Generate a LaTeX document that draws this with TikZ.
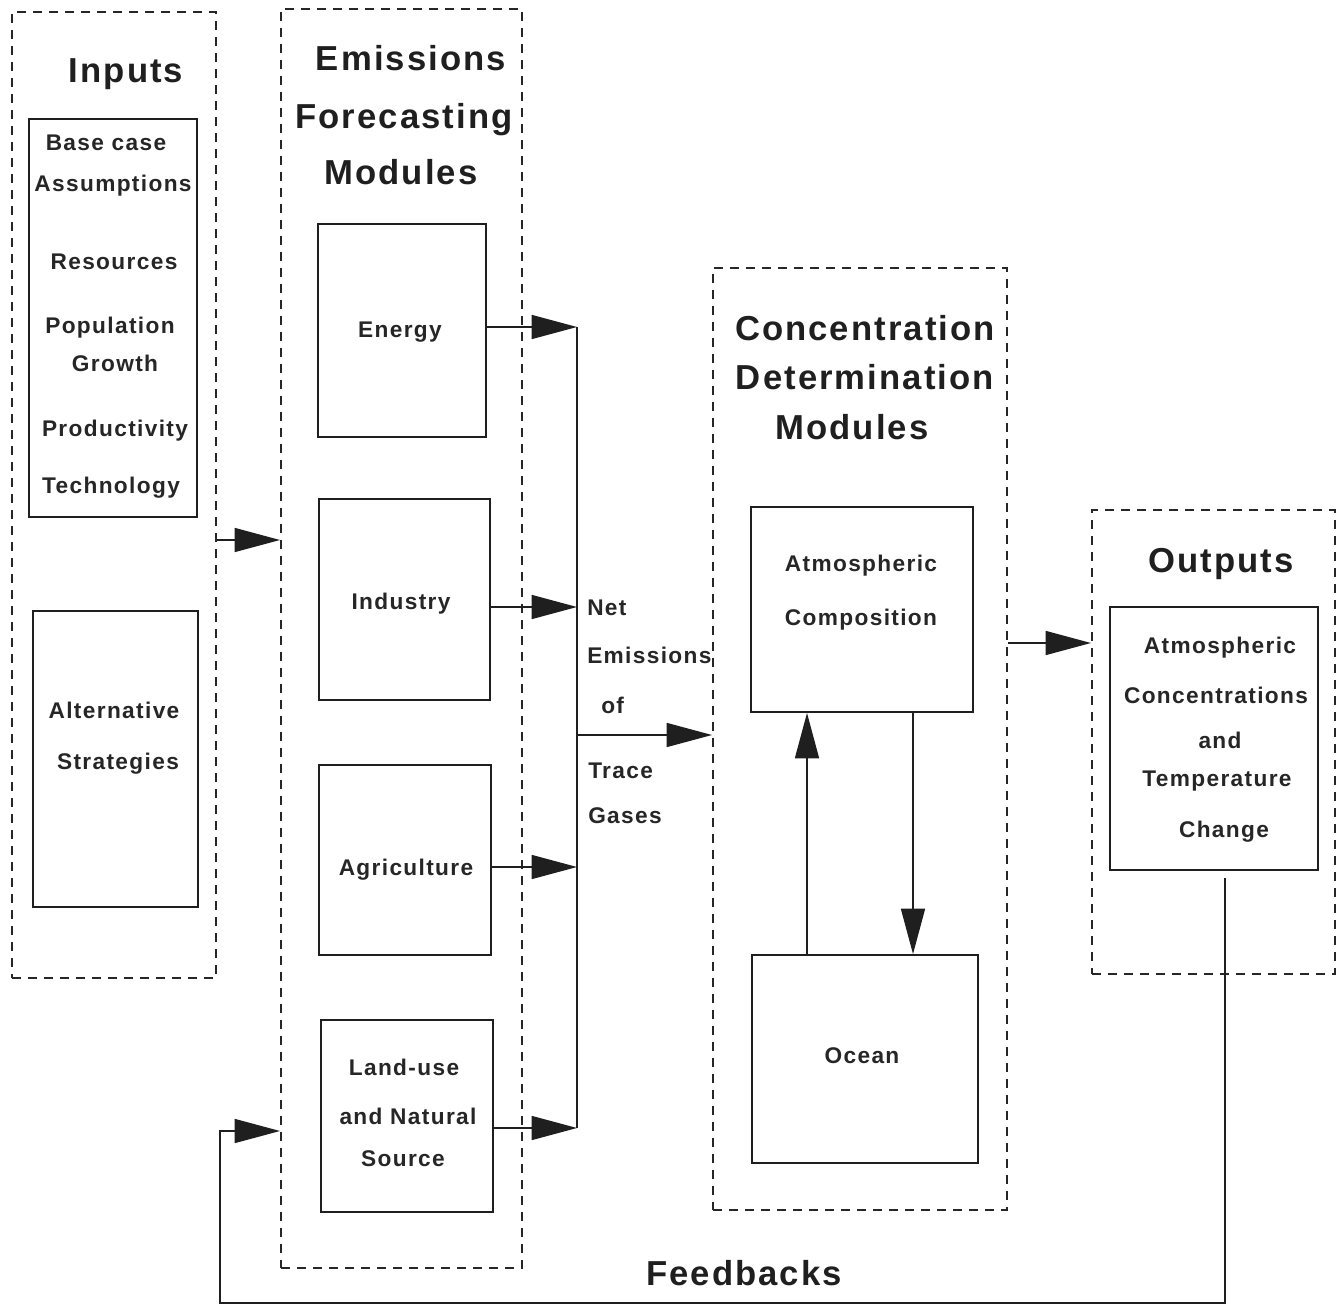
\documentclass[tikz,border=0pt]{standalone}
\usepackage{fontspec}
\setmainfont{Liberation Sans}
\newfontfamily\tfont{Liberation Sans}[LetterSpace=6]
\newfontfamily\ifont{Liberation Sans}[LetterSpace=6]
\usetikzlibrary{arrows.meta,fit}
\begin{document}
\begin{tikzpicture}[x=0.75pt,y=-0.75pt,
  grp/.style={draw=black!85, line width=1.5pt, dash pattern=on 7pt off 5pt, inner sep=0pt},
  box/.style={draw=black!88, line width=1.4pt, inner sep=0pt},
  ttl/.style={font=\tfont\bfseries\fontsize{26}{30}\selectfont, inner sep=0pt, text height=18.6pt, text depth=0pt, text=black!88},
  lbl/.style={font=\ifont\bfseries\fontsize{17}{20}\selectfont, inner sep=0pt, text height=12.2pt, text depth=0pt, text=black!85},
  arr/.style={draw=black!88, line width=1.1pt, -{Triangle[length=34pt,width=18pt]}},
  ln/.style={draw=black!88, line width=1.1pt}]
\useasboundingbox (0,0) rectangle (1340,1306);
% groups
\node[grp, fit={(12,12)(216,978)}] (gin) {};
\node[grp, fit={(281,9)(522,1268)}] (gem) {};
\node[grp, fit={(713,268)(1007,1210)}] (gcd) {};
\node[grp, fit={(1092,510)(1335,974)}] (gout) {};
% boxes
\node[box, fit={(29,119)(197,517)}] (bcase) {};
\node[box, fit={(33,611)(198,907)}] (alt) {};
\node[box, fit={(318,224)(486,437)}] (energy) {};
\node[box, fit={(319,499)(490,700)}] (industry) {};
\node[box, fit={(319,765)(491,955)}] (agri) {};
\node[box, fit={(321,1020)(493,1212)}] (land) {};
\node[box, fit={(751,507)(973,712)}] (atm) {};
\node[box, fit={(752,955)(978,1163)}] (ocean) {};
\node[box, fit={(1110,607)(1318,870)}] (outbox) {};
% titles
\node[ttl] (tin) at (126,70) {Inputs};
\node[ttl] (tem1) at (411,58) {Emissions};
\node[ttl] (tem2) at (404,116) {Forecasting};
\node[ttl] (tem3) at (401,172) {Modules};
\node[ttl] (tcd1) at (865,328) {Concentration};
\node[ttl] (tcd2) at (865,377) {Determination};
\node[ttl] (tcd3) at (852,427) {Modules};
\node[ttl] (tout) at (1221,560) {Outputs};
\node[ttl] (tfb) at (744,1273) {Feedbacks};
% inputs labels
\node[lbl] (l1) at (106,142) {Base case};
\node[lbl] (l2) at (113,183) {Assumptions};
\node[lbl] (l3) at (114,261) {Resources};
\node[lbl] (l4) at (110,325) {Population};
\node[lbl] (l5) at (115,363) {Growth};
\node[lbl] (l6) at (115,428) {Productivity};
\node[lbl] (l7) at (111,485) {Technology};
\node[lbl] (l8) at (114,710) {Alternative};
\node[lbl] (l9) at (118,761) {Strategies};
% emission modules
\node[lbl] (e1) at (400,329) {Energy};
\node[lbl] (e2) at (401,601) {Industry};
\node[lbl] (e3) at (406,867) {Agriculture};
\node[lbl] (e4) at (404,1067) {Land-use};
\node[lbl] (e5) at (408,1116) {and Natural};
\node[lbl] (e6) at (403,1158) {Source};
% net emissions
\node[lbl, anchor=west] (n1) at (587,607) {Net};
\node[lbl, anchor=west] (n2) at (587,655) {Emissions};
\node[lbl, anchor=west] (n3) at (601,705) {of};
\node[lbl, anchor=west] (n4) at (588,770) {Trace};
\node[lbl, anchor=west] (n5) at (588,815) {Gases};
% concentration
\node[lbl] (c1) at (861,563) {Atmospheric};
\node[lbl] (c2) at (861,617) {Composition};
\node[lbl] (c3) at (862,1055) {Ocean};
% outputs
\node[lbl] (o1) at (1220,645) {Atmospheric};
\node[lbl] (o2) at (1216,695) {Concentrations};
\node[lbl] (o3) at (1220,740) {and};
\node[lbl] (o4) at (1217,778) {Temperature};
\node[lbl] (o5) at (1224,829) {Change};
% connectors
\coordinate (b1) at (577,327);
\coordinate (b2) at (577,607);
\coordinate (b3) at (577,867);
\coordinate (b4) at (577,1128);
\coordinate (b5) at (577,735);
\coordinate (ia) at (216,540);
\coordinate (ca) at (1007,643);
\coordinate (xd) at (913,0);
\coordinate (xu) at (807,0);
\coordinate (f1) at (1225,878);
\coordinate (f2) at (1225,1303);
\coordinate (f3) at (220,1303);
\coordinate (f4) at (220,1131);
\draw[arr] (energy.east |- b1) -- (b1);
\draw[arr] (industry.east |- b2) -- (b2);
\draw[arr] (agri.east |- b3) -- (b3);
\draw[arr] (land.east |- b4) -- (b4);
\draw[ln] (b1) -- (b4);
\draw[arr] (b5) -- (gcd.west |- b5);
\draw[arr] (gin.east |- ia) -- (gem.west |- ia);
\draw[arr] (gcd.east |- ca) -- (gout.west |- ca);
\draw[arr] (atm.south -| xd) -- (ocean.north -| xd);
\draw[arr] (ocean.north -| xu) -- (atm.south -| xu);
\draw[arr] (f1) -- (f2) -- (f3) -- (f4) -- (gem.west |- f4);
\end{tikzpicture}
\end{document}
